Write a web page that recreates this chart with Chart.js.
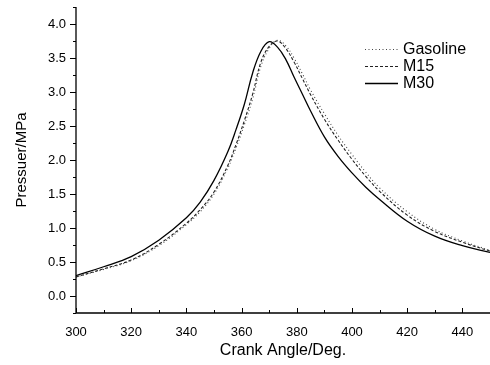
<!DOCTYPE html>
<html>
<head>
<meta charset="utf-8">
<script src="https://cdn.jsdelivr.net/npm/chart.js@4/dist/chart.umd.min.js"></script>
<style>
  html, body { margin: 0; padding: 0; background: #fff; }
  #wrap { width: 490px; height: 365px; position: relative; }
</style>
</head>
<body>
<div id="wrap"><canvas id="c"></canvas></div>
<script>
// crank angle (deg) shared by all three curves
const angles = [300, 310, 320, 330, 340, 345, 350, 355, 358, 361, 364, 367, 370, 373,
                376, 379, 382, 385, 390, 395, 400, 405, 410, 420, 430, 440, 450];

// cylinder pressure, MPa
const gasoline = [0.28, 0.39, 0.52, 0.74, 1.05, 1.24, 1.50, 1.88, 2.18, 2.52, 2.90, 3.38, 3.64, 3.76,
                  3.68, 3.50, 3.27, 3.03, 2.68, 2.36, 2.08, 1.82, 1.59, 1.24, 0.98, 0.81, 0.67];
const m15      = [0.28, 0.40, 0.53, 0.76, 1.07, 1.27, 1.53, 1.92, 2.23, 2.58, 2.97, 3.44, 3.67, 3.75,
                  3.64, 3.44, 3.20, 2.96, 2.60, 2.29, 2.01, 1.76, 1.54, 1.19, 0.95, 0.79, 0.66];
const m30      = [0.30, 0.43, 0.58, 0.82, 1.15, 1.38, 1.70, 2.12, 2.45, 2.82, 3.28, 3.60, 3.74, 3.66,
                  3.48, 3.22, 2.97, 2.72, 2.34, 2.05, 1.81, 1.60, 1.42, 1.10, 0.88, 0.74, 0.64];

const xTicks = [300, 320, 340, 360, 380, 400, 420, 440];
const yTicks = [0.0, 0.5, 1.0, 1.5, 2.0, 2.5, 3.0, 3.5, 4.0];

const FONT = 'Arial, "Liberation Sans", sans-serif';

function pts(ys) { return angles.map((a, i) => ({ x: a, y: ys[i] })); }

// axis lines and ticks: x inward, y outward, with minor ticks in between
const tickMarks = {
  id: 'tickMarks',
  afterDraw(chart) {
    const { ctx, chartArea: a, scales: { x, y } } = chart;
    ctx.save();
    ctx.strokeStyle = '#000';
    ctx.lineWidth = 1.3;
    ctx.beginPath();
    ctx.moveTo(a.left, a.top); ctx.lineTo(a.left, a.bottom); ctx.lineTo(a.right, a.bottom);
    ctx.stroke();
    ctx.lineWidth = 1;
    ctx.beginPath();
    for (let v = 300; v <= 450; v += 10) {
      const px = Math.round(x.getPixelForValue(v)) + 0.5;
      const len = v % 20 === 0 ? 5 : 3;
      ctx.moveTo(px, a.bottom); ctx.lineTo(px, a.bottom - len);
    }
    for (let v = -0.25; v <= 4.25; v += 0.25) {
      const py = Math.round(y.getPixelForValue(v)) + 0.5;
      const major = Math.abs(v * 2 - Math.round(v * 2)) < 1e-6 && v >= 0;
      const len = major ? 6 : 3;
      ctx.moveTo(a.left, py); ctx.lineTo(a.left - len, py);
    }
    ctx.stroke();
    ctx.restore();
  }
};

// legend drawn inside the plot, top right
const insideLegend = {
  id: 'insideLegend',
  afterDraw(chart) {
    const { ctx } = chart;
    const rows = [49, 66, 83];
    ctx.save();
    ctx.font = '16px ' + FONT;
    ctx.textBaseline = 'middle';
    chart.data.datasets.forEach((ds, i) => {
      ctx.strokeStyle = ds.borderColor;
      ctx.lineWidth = ds.borderWidth;
      ctx.setLineDash(ds.borderDash || []);
      ctx.beginPath();
      ctx.moveTo(365, rows[i] + 0.5); ctx.lineTo(398, rows[i] + 0.5);
      ctx.stroke();
      ctx.setLineDash([]);
      ctx.fillStyle = '#000';
      ctx.fillText(ds.label, 403, rows[i] + 1);
    });
    ctx.restore();
  }
};

new Chart(document.getElementById('c'), {
  type: 'line',
  data: {
    datasets: [
      { label: 'Gasoline', data: pts(gasoline), borderColor: '#444', borderWidth: 1.1, borderDash: [1, 2.5] },
      { label: 'M15', data: pts(m15), borderColor: '#222', borderWidth: 1.1, borderDash: [3, 2] },
      { label: 'M30', data: pts(m30), borderColor: '#000', borderWidth: 1.3, borderDash: [] }
    ]
  },
  options: {
    responsive: true,
    maintainAspectRatio: false,
    animation: false,
    layout: { padding: { top: 7, right: 0, left: 0, bottom: 0 } },
    elements: { point: { radius: 0 }, line: { tension: 0.4, fill: false } },
    plugins: { legend: { display: false }, tooltip: { enabled: false } },
    scales: {
      x: {
        type: 'linear', min: 300, max: 450,
        afterBuildTicks: s => { s.ticks = xTicks.map(v => ({ value: v })); },
        afterFit: s => { s.height = 52; },
        grid: { display: false },
        border: { display: false },
        ticks: { color: '#000', font: { family: FONT, size: 13 }, padding: 4, maxRotation: 0 },
        title: { display: true, text: 'Crank Angle/Deg.', color: '#000', font: { family: FONT, size: 16 }, padding: { top: 2, bottom: 5 } }
      },
      y: {
        type: 'linear', min: -0.25, max: 4.25,
        afterBuildTicks: s => { s.ticks = yTicks.map(v => ({ value: v })); },
        afterFit: s => { s.width = 76; s.paddingTop = 0; s.paddingBottom = 0; },
        grid: { display: false },
        border: { display: false },
        ticks: { color: '#000', font: { family: FONT, size: 13 }, padding: 2, callback: v => v.toFixed(1) },
        title: { display: true, text: 'Pressuer/MPa', color: '#000', font: { family: FONT, size: 15 }, padding: { top: 13, bottom: 4 } }
      }
    }
  },
  plugins: [tickMarks, insideLegend]
});
</script>
</body>
</html>
